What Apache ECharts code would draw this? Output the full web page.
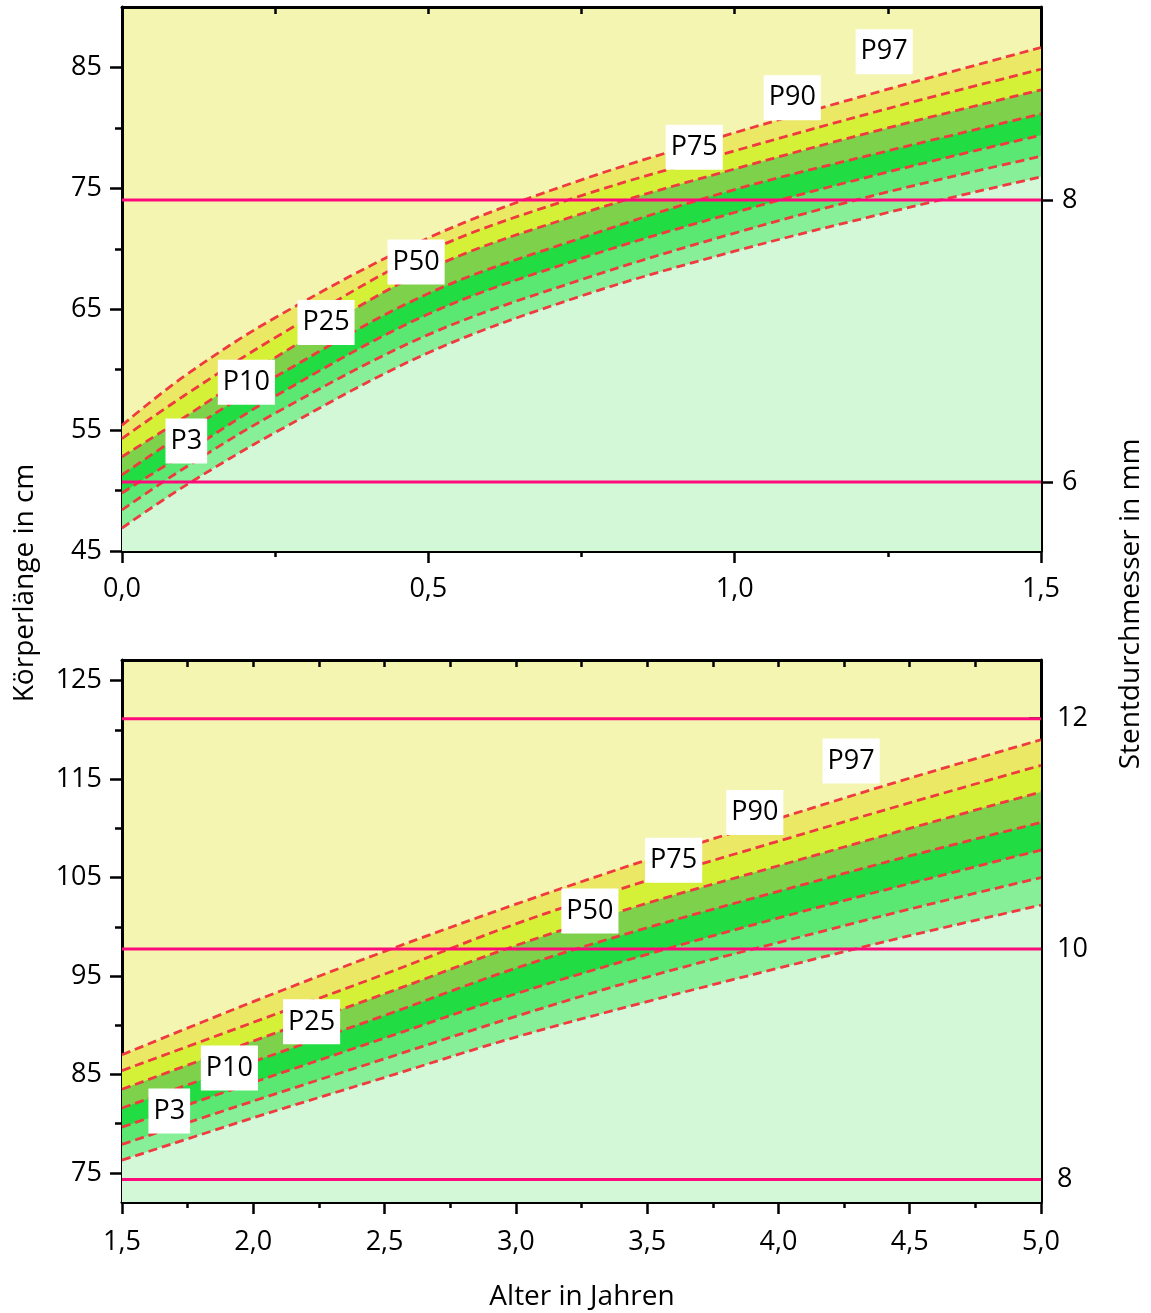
<!DOCTYPE html>
<html lang="de">
<head>
  <meta charset="UTF-8">
  <title>Körperlänge und Stentdurchmesser</title>
  <script src="https://cdn.jsdelivr.net/npm/echarts@6/dist/echarts.min.js"></script>
  <style>
    html, body { margin: 0; padding: 0; background: #fff; }
    #chart { width: 1151px; height: 1313px; }
  </style>
</head>
<body>
  <div id="chart"></div>
  <script>
    // Alter in Jahren
    const ageTop = [0, 0.1, 0.25, 0.5, 0.75, 1.0, 1.25, 1.5]
    const ageBottom = [1.5, 2.0, 2.5, 3.0, 3.5, 4.0, 4.5, 5.0]

    // Perzentilen Körperlänge in cm, 0 - 1,5 Jahre
    const topP97 = [55.4, 59.4, 64.3, 70.9, 75.7, 79.6, 83.2, 86.65]
    const topP90 = [54.3, 57.8, 62.65, 69.8, 74.4, 78.1, 81.6, 84.85]
    const topP75 = [52.8, 56.0, 61.0, 68.3, 72.9, 76.6, 80.0, 83.15]
    const topP50 = [51.3, 54.7, 59.4, 66.3, 70.9, 74.9, 78.1, 81.15]
    const topP25 = [49.8, 53.0, 57.8, 64.6, 69.2, 73.0, 76.35, 79.4]
    const topP10 = [48.4, 51.8, 56.4, 62.9, 67.45, 71.3, 74.7, 77.65]
    const topP3 = [46.9, 50.3, 54.8, 61.4, 66.1, 69.8, 73.0, 75.95]

    // Perzentilen Körperlänge in cm, 1,5 - 5 Jahre
    const botP97 = [87.0, 92.4, 97.5, 102.3, 106.8, 111.0, 115.1, 119.0]
    const botP90 = [85.4, 90.3, 95.2, 100.3, 104.7, 108.7, 112.6, 116.4]
    const botP75 = [83.5, 88.4, 93.2, 98.1, 102.4, 106.2, 110.0, 113.7]
    const botP50 = [81.6, 86.3, 91.0, 95.8, 99.9, 103.6, 107.2, 110.6]
    const botP25 = [79.65, 84.2, 88.7, 93.2, 97.2, 100.9, 104.4, 107.8]
    const botP10 = [77.9, 82.3, 86.6, 90.9, 94.9, 98.4, 101.8, 105.0]
    const botP3 = [76.3, 80.6, 84.7, 88.8, 92.4, 95.8, 99.1, 102.2]

    const curveNames = ['P97', 'P90', 'P75', 'P50', 'P25', 'P10', 'P3']
    const bandColors = ['#ebe866', '#d4f137', '#7ed14a', '#22dc44', '#5ae872', '#87ef98', '#d2f8d7']

    // Stentdurchmesser in mm (rechte Achse)
    const stentTop = [6, 8]
    const stentBottom = [8, 10, 12]

    // Achsenbeschriftungen
    const leftTicksTop = [45, 55, 65, 75, 85]
    const leftMinorTop = [50, 60, 70, 80]
    const leftTicksBottom = [75, 85, 95, 105, 115, 125]
    const leftMinorBottom = [80, 90, 100, 110, 120]

    // Perzentil-Kästchen (Alter, cm)
    const labelNames = ['P3', 'P10', 'P25', 'P50', 'P75', 'P90', 'P97']
    const labelTopX = [0.105, 0.203, 0.333, 0.48, 0.934, 1.094, 1.244]
    const labelTopY = [54.1, 58.95, 63.9, 68.9, 78.4, 82.5, 86.3]
    const labelBotX = [1.68, 1.909, 2.222, 3.282, 3.601, 3.91, 4.277]
    const labelBotY = [81.3, 85.65, 90.35, 101.6, 106.75, 111.6, 116.85]

    const FONT = 'Open Sans'
    const black = '#000'
    const comma = v => v.toFixed(1).replace('.', ',')

    function curveSeries(ages, curves, xi, yi) {
      return curves.map((vals, i) => ({
        name: curveNames[i],
        type: 'line',
        xAxisIndex: xi,
        yAxisIndex: yi,
        data: ages.map((a, k) => [a, vals[k]]),
        smooth: 0.35,
        symbol: 'none',
        lineStyle: { color: '#f03a40', width: 2.8, type: [9, 5] },
        areaStyle: { color: bandColors[i], opacity: 1, origin: 'start' },
        silent: true
      }))
    }

    function stentSeries(values, xMin, xMax, xi, yi) {
      return values.map(v => ({
        type: 'line',
        xAxisIndex: xi,
        yAxisIndex: yi,
        data: [[xMin, v], [xMax, v]],
        symbol: 'none',
        lineStyle: { color: '#ff0a7a', width: 3 },
        z: 3,
        silent: true
      }))
    }

    function labelSeries(xs, ys, xi, yi) {
      return {
        type: 'scatter',
        xAxisIndex: xi,
        yAxisIndex: yi,
        symbolSize: 1,
        itemStyle: { color: 'rgba(0,0,0,0)', opacity: 1 },
        data: xs.map((x, i) => ({ name: labelNames[i], value: [x, ys[i]] })),
        label: {
          show: true,
          position: 'inside',
          formatter: p => p.name,
          fontFamily: FONT,
          fontSize: 27,
          color: black,
          opacity: 1,
          backgroundColor: '#fff',
          padding: [5, 5, 4, 5],
          lineHeight: 36
        },
        z: 10,
        silent: true
      }
    }

    const lineStyle = { color: black, width: 3 }
    const tickStyle = { color: black, width: 2.5 }
    const labelStyle = { fontFamily: FONT, fontSize: 27, color: black }

    function bottomX(gi, min, max, margin) {
      return {
        type: 'value', gridIndex: gi, position: 'bottom', min: min, max: max, interval: 0.5,
        axisLine: { show: true, onZero: false, lineStyle: lineStyle },
        axisTick: { show: true, length: 12, lineStyle: tickStyle },
        minorTick: { show: true, splitNumber: 2, length: 6, lineStyle: tickStyle },
        axisLabel: Object.assign({ margin: margin, formatter: comma }, labelStyle),
        splitLine: { show: false }
      }
    }

    function topX(gi, min, max) {
      return {
        type: 'value', gridIndex: gi, position: 'top', min: min, max: max, interval: 0.25,
        axisLine: { show: true, onZero: false, lineStyle: lineStyle },
        axisTick: { show: true, inside: true, length: 7, lineStyle: tickStyle },
        axisLabel: { show: false },
        splitLine: { show: false }
      }
    }

    function leftY(gi, min, max, ticks) {
      return {
        type: 'value', gridIndex: gi, position: 'left', min: min, max: max,
        axisLine: { show: true, onZero: false, lineStyle: lineStyle },
        axisTick: { show: true, length: 12, lineStyle: tickStyle, customValues: ticks },
        axisLabel: Object.assign({ margin: 20, customValues: ticks }, labelStyle),
        splitLine: { show: false }
      }
    }

    function minorY(gi, min, max, ticks) {
      return {
        type: 'value', gridIndex: gi, position: 'left', min: min, max: max,
        axisLine: { show: false, onZero: false },
        axisTick: { show: true, length: 7, lineStyle: tickStyle, customValues: ticks },
        axisLabel: { show: false },
        splitLine: { show: false }
      }
    }

    function rightY(gi, min, max, ticks, inside, margin) {
      return {
        type: 'value', gridIndex: gi, position: 'right', min: min, max: max,
        axisLine: { show: true, onZero: false, lineStyle: lineStyle },
        axisTick: { show: true, inside: inside, length: 12, lineStyle: tickStyle, customValues: ticks },
        axisLabel: Object.assign({ margin: margin, customValues: ticks }, labelStyle),
        splitLine: { show: false }
      }
    }

    const topCurves = [topP97, topP90, topP75, topP50, topP25, topP10, topP3]
    const botCurves = [botP97, botP90, botP75, botP50, botP25, botP10, botP3]

    const myChart = echarts.init(document.getElementById('chart'))
    const option = {
      animation: false,
      textStyle: { fontFamily: FONT },
      grid: [
        { left: 122, right: 110, top: 7, height: 544, show: true, backgroundColor: '#f3f5b1', borderWidth: 0 },
        { left: 122, right: 110, top: 660, height: 542, show: true, backgroundColor: '#f3f5b1', borderWidth: 0 }
      ],
      xAxis: [
        bottomX(0, 0, 1.5, 25),
        topX(0, 0, 1.5),
        bottomX(1, 1.5, 5.0, 27),
        topX(1, 1.5, 5.0)
      ],
      yAxis: [
        leftY(0, 45, 90, leftTicksTop),
        rightY(0, 5.51, 9.37, stentTop, false, 21),
        minorY(0, 45, 90, leftMinorTop),
        leftY(1, 72.05, 127.1, leftTicksBottom),
        rightY(1, 7.804, 12.509, stentBottom, true, 16),
        minorY(1, 72.05, 127.1, leftMinorBottom)
      ],
      series: [].concat(
        curveSeries(ageTop, topCurves, 0, 0),
        stentSeries(stentTop, 0, 1.5, 0, 1),
        labelSeries(labelTopX, labelTopY, 0, 0),
        curveSeries(ageBottom, botCurves, 2, 3),
        stentSeries(stentBottom, 1.5, 5.0, 2, 4),
        labelSeries(labelBotX, labelBotY, 2, 3)
      ),
      graphic: [
        {
          type: 'text', x: 25, y: 583, rotation: Math.PI / 2,
          style: { text: 'Körperlänge in cm', fontFamily: FONT, fontSize: 28, fill: black, align: 'center', verticalAlign: 'middle' }
        },
        {
          type: 'text', x: 1131, y: 604, rotation: Math.PI / 2,
          style: { text: 'Stentdurchmesser in mm', fontFamily: FONT, fontSize: 28, fill: black, align: 'center', verticalAlign: 'middle' }
        },
        {
          type: 'text', x: 582, y: 1297,
          style: { text: 'Alter in Jahren', fontFamily: FONT, fontSize: 28, fill: black, align: 'center', verticalAlign: 'middle' }
        }
      ]
    }
    myChart.setOption(option)
  </script>
</body>
</html>
